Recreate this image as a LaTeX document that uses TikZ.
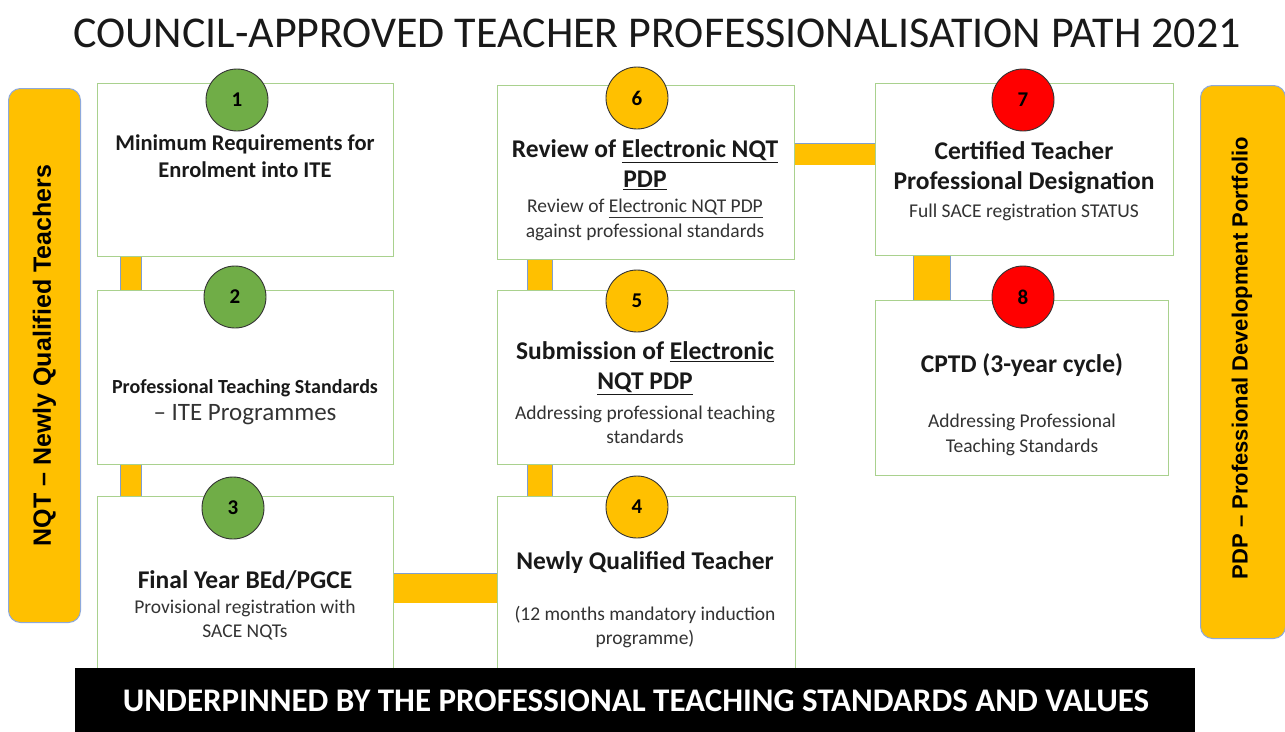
\documentclass[tikz,border=0pt]{standalone}
\usepackage{fontspec}
\setmainfont{Carlito}
\newfontfamily\pillfont{Liberation Sans}
\usetikzlibrary{positioning, calc, backgrounds}

\definecolor{boxline}{HTML}{A9D18E}
\definecolor{stepgreen}{HTML}{70AD47}
\definecolor{stepyellow}{HTML}{FFC000}
\definecolor{stepred}{HTML}{FF0000}
\definecolor{barline}{HTML}{7F9FD0}
\definecolor{pillline}{HTML}{8EA9DB}

\tikzset{
  stage/.style={draw=boxline, line width=1.2pt, fill=white, inner sep=0pt, anchor=north west},
  num/.style={circle, draw=black!80, line width=0.9pt, fill=#1, minimum size=62pt, inner sep=0pt,
    font=\fontsize{21}{21}\selectfont\bfseries},
  link/.style={draw=barline, line width=0.7pt, double=stepyellow, double distance=#1},
  pill/.style={draw=pillline, line width=1pt, fill=stepyellow, rounded corners=12pt, inner sep=0pt, anchor=north west},
  head/.style={align=center, text=black!90, font=\fontsize{25.5}{30}\selectfont\bfseries},
  sub/.style={align=center, text=black!80, font=\fontsize{19.5}{24.5}\selectfont},
}

\begin{document}
\begin{tikzpicture}[x=1pt, y=-1pt]
    \useasboundingbox (0,0) rectangle (1285,731);

    % Title
    \node[font=\fontsize{44}{44}\selectfont, text=black!90] (title) at (657,33)
        {COUNCIL-APPROVED TEACHER PROFESSIONALISATION PATH 2021};

    % Side bars
    \node[pill, minimum width=72pt, minimum height=534pt] (nqt) at (8,88) {};
    \node[rotate=90, font=\pillfont\fontsize{25}{25}\selectfont\bfseries] at (nqt.center)
        {NQT – Newly Qualified Teachers};
    \node[pill, minimum width=85pt, minimum height=553pt] (pdp) at (1200,85) {};
    \node[rotate=90, font=\pillfont\fontsize{22}{22}\selectfont\bfseries] at (1242,358)
        {PDP – Professional Development Portfolio};

    % Stage boxes
    \node[stage, minimum width=296pt, minimum height=173pt] (b1) at (97,83) {};
    \node[stage, minimum width=296pt, minimum height=174pt] (b2) at (97,290) {};
    \node[stage, minimum width=296pt, minimum height=194pt] (b3) at (97,496) {};
    \node[stage, minimum width=298pt, minimum height=194pt] (b4) at (497,496) {};
    \node[stage, minimum width=297pt, minimum height=174pt] (b5) at (497,290) {};
    \node[stage, minimum width=297pt, minimum height=174pt] (b6) at (497,85) {};
    \node[stage, minimum width=298pt, minimum height=172pt] (b7) at (875,83) {};
    \node[stage, minimum width=293pt, minimum height=175pt] (b8) at (875,300) {};

    % Connectors
    \draw[link=20pt] ([xshift=34]b1.south west) -- ([xshift=34]b2.north west);
    \draw[link=20pt] ([xshift=34]b2.south west) -- ([xshift=34]b3.north west);
    \draw[link=29pt] ([yshift=-92]b3.north east) -- ([yshift=-92]b4.north west);
    \draw[link=24pt] ([xshift=43]b4.north west) -- ([xshift=43]b5.south west);
    \draw[link=24pt] ([xshift=43]b5.north west) -- ([xshift=43]b6.south west);
    \draw[link=21pt] ([yshift=-69]b6.north east) -- ([yshift=-69]b6.north east -| b7.west);
    \draw[link=36pt] ([xshift=57]b7.south west) -- ([xshift=57]b7.south west |- b8.north);

    % Step numbers
    \node[num=stepgreen] (n1) at (237,100) {1};
    \node[num=stepgreen] (n2) at (235,297) {2};
    \node[num=stepgreen] (n3) at (233,508) {3};
    \node[num=stepyellow] (n4) at (637,507) {4};
    \node[num=stepyellow] (n5) at (637,301) {5};
    \node[num=stepyellow] (n6) at (637,98) {6};
    \node[num=stepred] (n7) at (1023,100) {7};
    \node[num=stepred] (n8) at (1023,297) {8};

    % Box texts
    \node[head, font=\fontsize{22.5}{27}\selectfont\bfseries] (t1) at (245,156)
        {Minimum Requirements for\\Enrolment into ITE};
    \node[head, font=\fontsize{20}{22}\selectfont\bfseries] (t2a) at (245,388)
        {Professional Teaching Standards};
    \node[sub, font=\fontsize{25}{27}\selectfont] (t2b) at (245,415) {– ITE Programmes};
    \node[head, font=\fontsize{25.5}{28}\selectfont\bfseries] (t3a) at (245,580) {Final Year BEd/PGCE};
    \node[sub] (t3b) at (245,620) {Provisional registration with\\SACE NQTs};

    \node[head] (t4a) at (645,563) {Newly Qualified Teacher};
    \node[sub] (t4b) at (645,627) {(12 months mandatory induction\\programme)};
    \node[head] (t5a) at (645,368) {Submission of \underline{Electronic}\\\underline{NQT PDP}};
    \node[sub] (t5b) at (645,425) {Addressing professional teaching\\standards};
    \node[head] (t6a) at (645,165) {Review of \underline{Electronic NQT}\\\underline{PDP}};
    \node[sub] (t6b) at (645,220) {Review of \underline{Electronic NQT PDP}\\against professional standards};

    \node[head] (t7a) at (1024,168) {Certified Teacher\\Professional Designation};
    \node[sub, font=\fontsize{19.5}{22}\selectfont] (t7b) at (1024,212) {Full SACE registration STATUS};
    \node[head] (t8a) at (1022,365) {CPTD (3-year cycle)};
    \node[sub] (t8b) at (1022,435) {Addressing Professional\\Teaching Standards};

    % Underpinning bar
    \node[fill=black, inner sep=0pt, anchor=north west, minimum width=1120pt, minimum height=70pt] (base) at (75,668) {};
    \node[text=white, font=\fontsize{33}{33}\selectfont\bfseries] (basetxt) at (636,701)
        {UNDERPINNED BY THE PROFESSIONAL TEACHING STANDARDS AND VALUES};
\end{tikzpicture}
\end{document}
